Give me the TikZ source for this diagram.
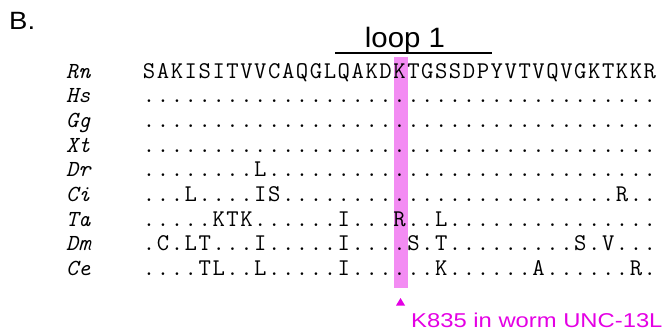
\documentclass[tikz,border=0pt]{standalone}
\usepackage{fontspec}
\usepackage{graphicx}
\setsansfont{Liberation Sans}
\definecolor{hl}{RGB}{243,140,243}
\definecolor{mag}{RGB}{228,0,228}
\newcommand\seqcells[1]{\seqcellsi#1\relax}
\def\seqcellsi#1{\ifx#1\relax\else\makebox[13.91bp][c]{#1}\expandafter\seqcellsi\fi}
\begin{document}
\begin{tikzpicture}[x=1bp,y=-1bp,
  seq/.style={anchor=base west, inner sep=0, font=\ttfamily\fontsize{24bp}{26bp}\selectfont},
  sp/.style={anchor=base west, inner sep=0, font=\ttfamily\itshape\fontsize{23bp}{26bp}\selectfont},
  lab/.style={anchor=base west, inner sep=0, font=\sffamily}]
\useasboundingbox (0,0) rectangle (665,332);
% highlight column
\fill[hl] (393.5,57) rectangle (407.5,288);
% labels
\node[lab, font=\sffamily\fontsize{25bp}{26bp}\selectfont] (B) at (9,29) {\scalebox{1.1}[1]{B.}};
\node[anchor=base, inner sep=0, font=\sffamily\fontsize{28bp}{30bp}\selectfont] (loop) at (405,47) {\scalebox{1.05}[1]{loop 1}};
\coordinate (l1) at (335,53);
\coordinate (l2) at (492,53);
\draw[line width=1.8bp] (l1) -- (l2);
% species
\foreach \n/\s [count=\i from 0] in {Rn/Rn,Hs/Hs,Gg/Gg,Xt/Xt,Dr/Dr,Ci/Ci,Ta/Ta,Dm/Dm,Ce/Ce}{
  \node[sp] (sp\n) at (66,78+\i*24.7) {\s};
}
\node[seq] (rRn) at (142,78) {\seqcells{SAKISITVVC AQGLQAKDKT GSSDPYVTVQ VGKTKKR}};
\node[seq] (rHs) at (142,102.7) {\seqcells{.......... .......... .......... .......}};
\node[seq] (rGg) at (142,127.4) {\seqcells{.......... .......... .......... .......}};
\node[seq] (rXt) at (142,152.1) {\seqcells{.......... .......... .......... .......}};
\node[seq] (rDr) at (142,176.8) {\seqcells{........ L .......... .......... ........}};
\node[seq] (rCi) at (142,201.5) {\seqcells{... L .... IS .......... .......... .... R ..}};
\node[seq] (rTa) at (142,226.2) {\seqcells{..... KTK ...... I ... R .. L ............... }};
\node[seq] (rDm) at (142,250.9) {\seqcells{.C.LT ... I ..... I .... S.T ......... S.V ...}};
\node[seq] (rCe) at (142,275.6) {\seqcells{....TL..L ..... I ...... K ...... A ...... R.}};
% marker
\coordinate (tri) at (400.5,298);
\fill[mag] (tri) -- ++(4.5,7.5) -- ++(-9,0) -- cycle;
\node[lab, text=mag, font=\sffamily\fontsize{20bp}{22bp}\selectfont] (k835) at (411,327) {\scalebox{1.19}[1]{K835 in worm UNC-13L}};
\end{tikzpicture}
\end{document}
